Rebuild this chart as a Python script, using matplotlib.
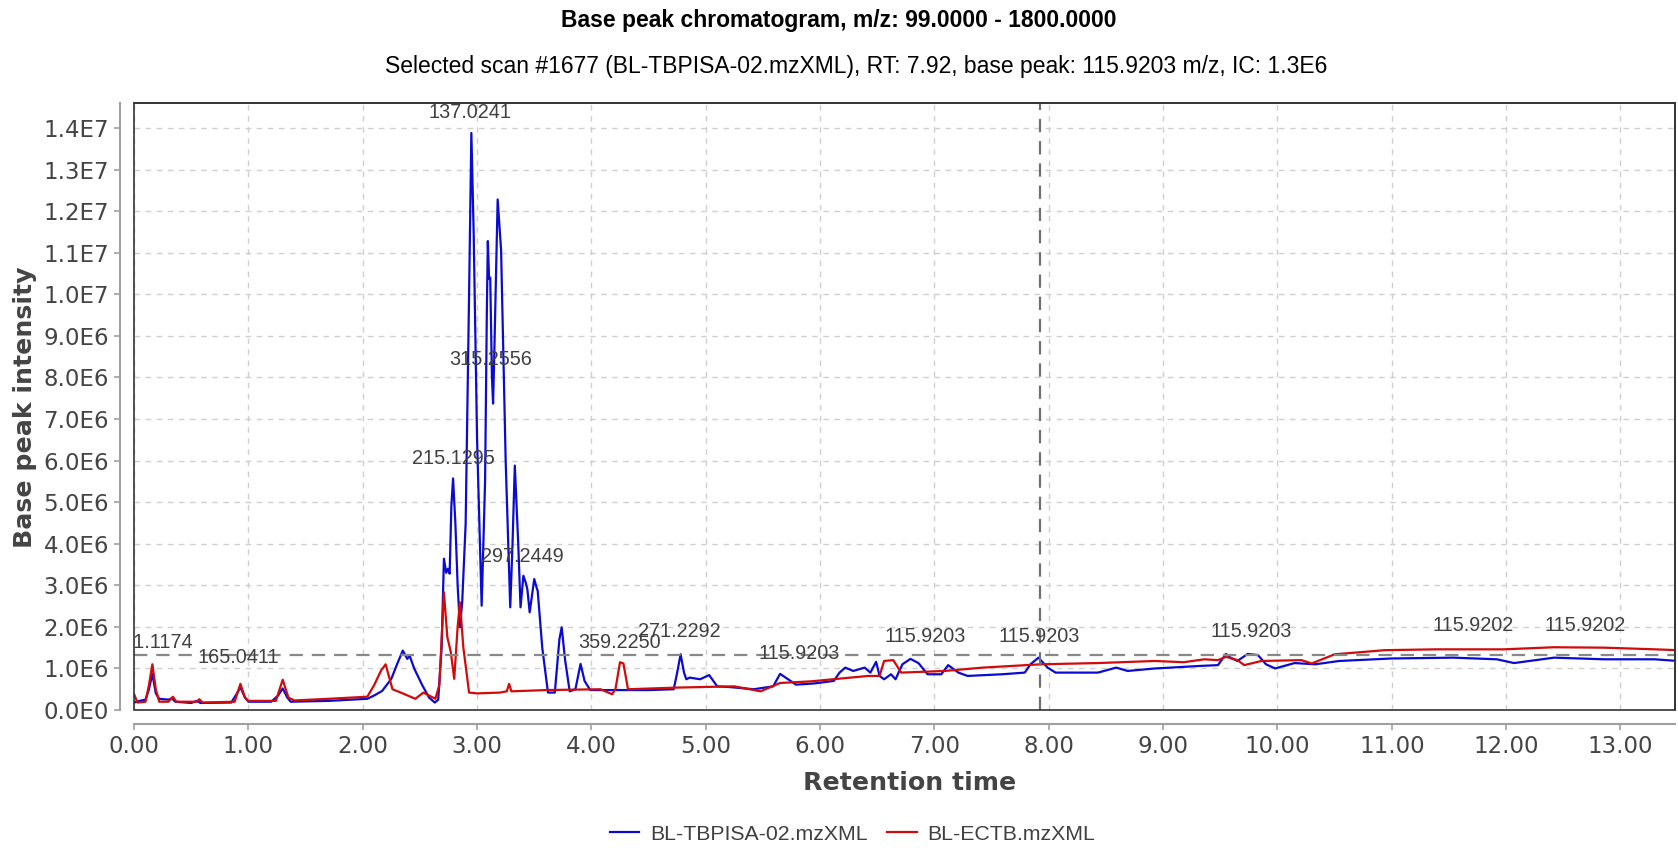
import numpy as np
import matplotlib
matplotlib.use("Agg")
import matplotlib.pyplot as plt
from matplotlib.patches import Rectangle
from matplotlib.ticker import FuncFormatter, MultipleLocator

# retention time (min) / base peak intensity (x1E6)
blue_rt = [0.00, 0.05, 0.10, 0.13, 0.16, 0.19, 0.22, 0.30, 0.33, 0.36, 0.50, 0.55, 0.58,
           0.85, 0.90, 0.93, 0.97, 1.00, 1.20, 1.26, 1.30, 1.34, 1.37, 1.70, 2.04, 2.10,
           2.17, 2.25, 2.30, 2.35, 2.39, 2.41, 2.45, 2.52, 2.58, 2.63, 2.66, 2.69, 2.71,
           2.73, 2.745, 2.76, 2.775, 2.79, 2.81, 2.83, 2.85, 2.87, 2.90, 2.93, 2.95, 2.97,
           3.00, 3.04, 3.07, 3.085, 3.094, 3.105, 3.115, 3.13, 3.14, 3.15, 3.18, 3.21,
           3.25, 3.29, 3.31, 3.33, 3.36, 3.38, 3.405, 3.425, 3.44, 3.46, 3.50, 3.52,
           3.53, 3.57, 3.62, 3.68, 3.72, 3.74, 3.77, 3.81, 3.86, 3.905, 3.94, 3.99, 4.20,
           4.50, 4.72, 4.75, 4.78, 4.81, 4.83, 4.86, 4.95, 5.03, 5.10, 5.22, 5.42, 5.59,
           5.65, 5.72, 5.79, 5.95, 6.12, 6.17, 6.22, 6.29, 6.39, 6.44, 6.49, 6.52, 6.56,
           6.62, 6.66, 6.72, 6.79, 6.86, 6.94, 7.06, 7.12, 7.21, 7.29, 7.59, 7.79, 7.84,
           7.91, 7.99, 8.06, 8.43, 8.59, 8.69, 8.93, 9.32, 9.48, 9.55, 9.59, 9.65, 9.74,
           9.83, 9.90, 9.98, 10.15, 10.33, 10.54, 11.00, 11.54, 11.92, 12.07, 12.42,
           12.86, 13.30, 13.50]
blue_int = [0.18, 0.22, 0.25, 0.50, 0.87, 0.40, 0.27, 0.25, 0.28, 0.20, 0.17, 0.22, 0.17,
            0.18, 0.40, 0.55, 0.30, 0.20, 0.20, 0.35, 0.52, 0.30, 0.20, 0.22, 0.27, 0.35,
            0.46, 0.75, 1.10, 1.43, 1.23, 1.31, 1.00, 0.60, 0.30, 0.18, 0.25, 1.50, 3.64,
            3.30, 3.40, 3.28, 4.90, 5.57, 4.50, 3.00, 1.99, 2.60, 4.48, 10.0, 13.88, 11.5,
            6.50, 2.51, 5.50, 9.50, 11.28, 10.37, 10.40, 8.00, 7.37, 8.50, 12.28, 11.06,
            6.00, 2.47, 4.00, 5.88, 4.00, 2.47, 3.23, 3.07, 2.90, 2.35, 3.15, 2.95,
            2.87, 1.50, 0.42, 0.42, 1.70, 1.99, 1.20, 0.45, 0.50, 1.11, 0.70, 0.48, 0.48,
            0.48, 0.50, 0.90, 1.34, 0.90, 0.74, 0.78, 0.74, 0.84, 0.57, 0.55, 0.50, 0.57,
            0.87, 0.74, 0.61, 0.64, 0.70, 0.90, 1.02, 0.94, 1.02, 0.90, 1.16, 0.82, 0.74,
            0.86, 0.74, 1.10, 1.23, 1.13, 0.86, 0.86, 1.08, 0.90, 0.82, 0.86, 0.90, 1.10,
            1.26, 1.02, 0.90, 0.90, 1.02, 0.94, 1.00, 1.06, 1.08, 1.35, 1.26, 1.18, 1.35,
            1.32, 1.10, 1.00, 1.13, 1.10, 1.18, 1.24, 1.26, 1.22, 1.13, 1.26,
            1.22, 1.22, 1.18]

red_rt = [0.00, 0.03, 0.10, 0.13, 0.16, 0.19, 0.22, 0.30, 0.34, 0.37, 0.55, 0.57, 0.60,
          0.88, 0.93, 0.97, 1.00, 1.24, 1.30, 1.35, 1.40, 1.70, 2.04, 2.10, 2.16, 2.20,
          2.23, 2.26, 2.35, 2.46, 2.53, 2.58, 2.635, 2.67, 2.71, 2.74, 2.77, 2.80, 2.83,
          2.85, 2.88, 2.93, 3.00, 3.20, 3.26, 3.28, 3.30, 3.60, 4.08, 4.18, 4.21, 4.25,
          4.28, 4.32, 4.75, 5.25, 5.48, 5.65, 5.92, 6.42, 6.52, 6.56, 6.64, 6.71, 7.09,
          7.42, 7.93, 8.43, 8.93, 9.18, 9.36, 9.48, 9.55, 9.65, 9.71, 9.86, 10.21, 10.30,
          10.50, 10.94, 11.39, 11.98, 12.42, 12.86, 13.30, 13.50]
red_int = [0.38, 0.18, 0.20, 0.60, 1.10, 0.50, 0.20, 0.20, 0.32, 0.20, 0.20, 0.26, 0.18,
           0.20, 0.63, 0.30, 0.22, 0.22, 0.73, 0.30, 0.23, 0.27, 0.32, 0.60, 0.95, 1.10,
           0.80, 0.50, 0.40, 0.27, 0.42, 0.35, 0.27, 0.60, 2.83, 1.75, 1.40, 0.75, 2.00,
           2.59, 1.50, 0.42, 0.40, 0.42, 0.45, 0.63, 0.45, 0.48, 0.50, 0.38, 0.50, 1.15,
           1.12, 0.50, 0.54, 0.57, 0.45, 0.65, 0.69, 0.82, 0.82, 1.18, 1.20, 0.90, 0.94,
           1.02, 1.10, 1.13, 1.18, 1.15, 1.22, 1.20, 1.28, 1.20, 1.08, 1.18, 1.20, 1.12,
           1.34, 1.44, 1.46, 1.46, 1.51, 1.50, 1.46, 1.44]

# peak labels: text, rt, label height (x1E6)
peak_labels = ["121.1174", "165.0411", "215.1295", "137.0241", "315.2556", "297.2449",
               "359.2250", "271.2292", "115.9203", "115.9203", "115.9203", "115.9203",
               "115.9202", "115.9202"]
peak_rt = [0.16, 0.91, 2.79, 2.94, 3.12, 3.40, 4.25, 4.77, 5.82, 6.92, 7.92, 9.77,
           11.71, 12.69]
peak_y = [1.62, 1.26, 6.05, 14.37, 8.44, 3.70, 1.62, 1.88, 1.36, 1.77, 1.77, 1.88,
          2.03, 2.03]

selected_rt = 7.92
selected_ic = 1.33e6

fig = plt.figure(figsize=(16.78, 8.48), dpi=100)
ax_l, ax_w = 0.0799, 0.9185
ax = fig.add_axes([ax_l, 0.1627, ax_w, 0.7158])

ax.plot(np.array(blue_rt), np.array(blue_int) * 1e6, color="#0a0ad2", lw=1.6,
        label="BL-TBPISA-02.mzXML")
ax.plot(np.array(red_rt), np.array(red_int) * 1e6, color="#d20a0a", lw=1.6,
        label="BL-ECTB.mzXML")

ax.axhline(selected_ic, color="#888888", lw=1.6, ls=(0, (6, 4)))
ax.axvline(selected_rt, color="#707070", lw=1.6, ls=(0, (6, 4)))

for txt, x, y in zip(peak_labels, peak_rt, peak_y):
    ax.text(x, y * 1e6, txt, ha="center", va="center", fontsize=14.3,
            family="Liberation Sans", color="#404040", clip_on=True)

ax.set_xlim(0, 13.48)
ax.set_ylim(0, 14.6e6)
ax.xaxis.set_major_locator(MultipleLocator(1))
ax.yaxis.set_major_locator(MultipleLocator(1e6))
ax.xaxis.set_major_formatter(FuncFormatter(lambda v, p: f"{v:.2f}"))


def sci_fmt(v, pos):
    if v < 1:
        return "0.0E0" if abs(v) < 1 else ""
    e = int(np.floor(np.log10(v) + 1e-9))
    return f"{v / 10 ** e:.1f}E{e}"


ax.yaxis.set_major_formatter(FuncFormatter(sci_fmt))
ax.grid(True, color="#cfcfcf", ls=(0, (4, 4)), lw=1.0)
ax.set_axisbelow(True)

for side in ["left", "bottom"]:
    ax.spines[side].set_position(("outward", 10))
    ax.spines[side].set_color("#a0a0a0")
    ax.spines[side].set_linewidth(1.5)
for side in ["top", "right"]:
    ax.spines[side].set_color("#333333")
    ax.spines[side].set_linewidth(1.2)
ax.add_patch(Rectangle((0, 0), 1, 1, transform=ax.transAxes, fill=False,
                       ec="#333333", lw=1.2, clip_on=False, zorder=5))
ax.tick_params(axis="both", colors="#a0a0a0", labelcolor="#444444", labelsize=16.5,
               length=4, width=1.2, pad=4)

fig.text(0.5, 1 - 20 / 848, "Base peak chromatogram, m/z: 99.0000 - 1800.0000",
         ha="center", va="center", fontsize=16.5, fontweight="bold", family="Liberation Sans")
fig.text(0.51, 1 - 66 / 848,
         "Selected scan #1677 (BL-TBPISA-02.mzXML), RT: 7.92, base peak: 115.9203 m/z, IC: 1.3E6",
         ha="center", va="center", fontsize=16.5, family="Liberation Sans")
fig.text(ax_l + ax_w / 2 + 0.003, 1 - 783 / 848, "Retention time", ha="center", va="center",
         fontsize=18.2, fontweight="bold", color="#444444")
fig.text(25 / 1678, 1 - 407 / 848, "Base peak intensity", ha="center", va="center",
         rotation=90, fontsize=18.2, fontweight="bold", color="#444444")

leg = fig.legend(loc="center", bbox_to_anchor=(0.508, 1 - 834 / 848), ncol=2, frameon=False,
                 prop={"family": "Liberation Sans", "size": 15.3}, handlelength=1.4,
                 columnspacing=0.9, handletextpad=0.5)
for t in leg.get_texts():
    t.set_color("#404040")

fig.savefig("out.png", dpi=100)
